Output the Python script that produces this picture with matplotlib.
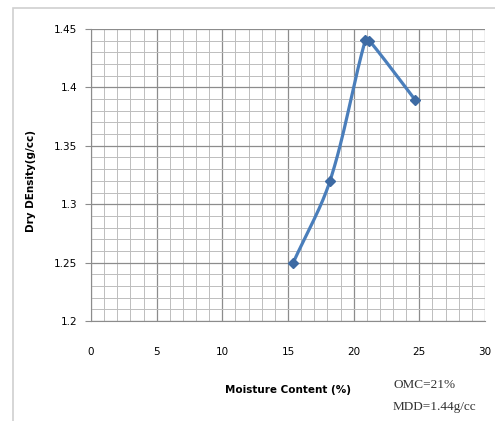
import numpy as np
import matplotlib.pyplot as plt
from matplotlib.patches import Rectangle
from matplotlib.ticker import MultipleLocator, FuncFormatter

# ---- données ----
moisture = [15.4, 18.2, 20.9, 21.2, 24.7]
dry_density = [1.25, 1.32, 1.441, 1.44, 1.389]

x_ticks = [0, 5, 10, 15, 20, 25, 30]
y_ticks = [1.2, 1.25, 1.3, 1.35, 1.4, 1.45]

line_color = '#4a7ebb'
mark_color = '#3d6aa3'
grid_major = '#8c8c8c'
grid_minor = '#bdbdbd'

xlim = (0, 30)
ylim = (1.2, 1.45)


def smooth(xs, ys, n=40):
    # courbe lissée façon Excel (bezier, tangentes limitées), juste pour le tracé
    sx_, sy_ = xlim[1] - xlim[0], ylim[1] - ylim[0]
    p = np.column_stack([np.array(xs) / sx_, np.array(ys) / sy_])
    m = len(p)
    tang = np.zeros_like(p)
    for i in range(m):
        a = p[max(i - 1, 0)]
        b = p[min(i + 1, m - 1)]
        d = b - a
        tang[i] = d / np.hypot(*d)
    out = []
    t = np.linspace(0, 1, n)[:, None]
    for i in range(m - 1):
        p1, p2 = p[i], p[i + 1]
        L = np.hypot(*(p2 - p1))
        c1 = p1 + tang[i] * L / 3
        c2 = p2 - tang[i + 1] * L / 3
        seg = ((1 - t) ** 3 * p1 + 3 * (1 - t) ** 2 * t * c1 +
               3 * (1 - t) * t ** 2 * c2 + t ** 3 * p2)
        out.append(seg)
    out = np.vstack(out)
    return out[:, 0] * sx_, out[:, 1] * sy_


fig = plt.figure(figsize=(4.95, 4.21), dpi=100)
fig.patch.set_facecolor('white')

# cadre gris clair autour du graphe
fig.patches.append(Rectangle((13 / 495, -0.1), 1.0, 1 - 8 / 421 + 0.1,
                             transform=fig.transFigure, fill=False,
                             edgecolor='#d0d0d0', lw=1.2))

ax = fig.add_axes([91 / 495, 1 - 321 / 421, 394 / 495, 292 / 421])

sx, sy = smooth(moisture, dry_density)
ax.plot(sx, sy, color=line_color, lw=2.3, zorder=3)
ax.plot(moisture, dry_density, ls='none', marker='D', ms=5,
        color=mark_color, zorder=4)

ax.set_xlim(*xlim)
ax.set_ylim(*ylim)
ax.set_xticks(x_ticks)
ax.set_yticks(y_ticks)
ax.xaxis.set_minor_locator(MultipleLocator(1))
ax.yaxis.set_minor_locator(MultipleLocator(0.01))
ax.yaxis.set_major_formatter(FuncFormatter(lambda v, p: ('%.2f' % v).rstrip('0')))

ax.grid(which='major', color=grid_major, lw=0.9)
ax.grid(which='minor', color=grid_minor, lw=0.7)
ax.set_axisbelow(True)

for s in ('top', 'right'):
    ax.spines[s].set_visible(False)
for s in ('left', 'bottom'):
    ax.spines[s].set_color('#8c8c8c')

ax.tick_params(axis='y', which='major', length=4, color='#8c8c8c',
               labelsize=7.5, pad=6)
ax.tick_params(axis='x', which='major', length=0, labelsize=7.5, pad=19)
ax.tick_params(which='minor', length=0)

ax.set_xlabel('Moisture Content (%)', fontsize=7.5, fontweight='bold')
ax.xaxis.set_label_coords(0.5, -0.22)
ax.set_ylabel('Dry DEnsity(g/cc)', fontsize=7.5, fontweight='bold')
ax.yaxis.set_label_coords(-0.14, 0.48)

fig.text(393 / 495, 1 - 385 / 421, 'OMC=21%', family='Liberation Serif',
         fontsize=9.5, va='center', color='#333333')
fig.text(393 / 495, 1 - 407 / 421, 'MDD=1.44g/cc', family='Liberation Serif',
         fontsize=9.5, va='center', color='#333333')

plt.savefig('out.png', dpi=100)
